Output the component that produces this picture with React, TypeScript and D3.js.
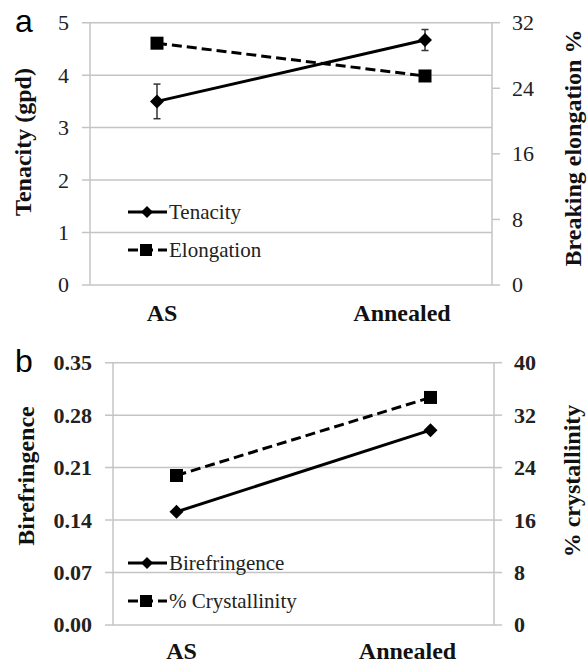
import * as d3 from "d3";

// categories on x
const categories = ["AS", "Annealed"];

// panel a
const tenacity = [3.5, 4.67];
const tenacityErr = [0.33, 0.2];
const elongation = [29.5, 25.5];
const tenacityTicks = [0, 1, 2, 3, 4, 5];
const elongationTicks = [0, 8, 16, 24, 32];

// panel b
const birefringence = [0.151, 0.26];
const crystallinity = [22.8, 34.7];
const birefTicks = [0, 0.07, 0.14, 0.21, 0.28, 0.35];
const crystTicks = [0, 8, 16, 24, 32, 40];

const serif = "Times New Roman, Liberation Serif, DejaVu Serif, serif";
const sans = "Liberation Sans, Arial, sans-serif";
const gridColor = "#c4c4c4";

type PanelProps = {
	letter: string;
	left: number;
	right: number;
	top: number;
	bottom: number;
	leftTicks: number[];
	rightTicks: number[];
	leftFmt: (v: number) => string;
	leftBold: boolean;
	leftTitle: string;
	rightTitle: string;
	leftTitleX: number;
	leftTitleY: number;
	rightTitleX: number;
	rightTitleY: number;
	solid: number[];
	solidErr?: number[];
	dashed: number[];
	solidName: string;
	dashedName: string;
	legendY: number;
	labelY: number;
};

function diamond(cx: number, cy: number, r: number) {
	return `M${cx},${cy - r}L${cx + r},${cy}L${cx},${cy + r}L${cx - r},${cy}Z`;
}

function Panel(p: PanelProps) {
	const x = d3
		.scalePoint<string>()
		.domain(categories)
		.range([p.left, p.right])
		.padding(0.25);
	const labelX = d3
		.scalePoint<string>()
		.domain(categories)
		.range([x("AS")! + 5, x("Annealed")! - 23]);

	const yL = d3
		.scaleLinear()
		.domain(d3.extent(p.leftTicks) as [number, number])
		.range([p.bottom, p.top]);
	const yR = d3
		.scaleLinear()
		.domain(d3.extent(p.rightTicks) as [number, number])
		.range([p.bottom, p.top]);

	const line = (scale: d3.ScaleLinear<number, number>) =>
		d3
			.line<number>()
			.x((_, i) => x(categories[i])!)
			.y((d) => scale(d));

	const dash = "10,5";
	const serifStyle = { fontFamily: serif };

	return (
		<g>
			<text x={15} y={p.top + 9} style={{ fontFamily: sans }} fontSize={32}>
				{p.letter}
			</text>

			{/* gridlines + left ticks */}
			{p.leftTicks.map((t) => (
				<g key={"l" + t}>
					<line
						x1={p.left - 8}
						x2={p.right}
						y1={yL(t)}
						y2={yL(t)}
						stroke={gridColor}
						strokeWidth={1.5}
					/>
					<text
						x={p.left - 21}
						y={yL(t)}
						dy="0.34em"
						textAnchor="end"
						style={serifStyle}
						fontSize={22}
						fontWeight={p.leftBold ? "bold" : "normal"}
						fill="#222"
					>
						{p.leftFmt(t)}
					</text>
				</g>
			))}
			{/* right ticks */}
			{p.rightTicks.map((t) => (
				<g key={"r" + t}>
					<line
						x1={p.right}
						x2={p.right + 8}
						y1={yR(t)}
						y2={yR(t)}
						stroke={gridColor}
						strokeWidth={1.5}
					/>
					<text
						x={p.right + 20}
						y={yR(t)}
						dy="0.34em"
						style={serifStyle}
						fontSize={22}
						fontWeight={p.leftBold ? "bold" : "normal"}
						fill="#222"
					>
						{t}
					</text>
				</g>
			))}
			<line x1={p.left} x2={p.left} y1={p.top} y2={p.bottom} stroke={gridColor} strokeWidth={1.5} />
			<line x1={p.right} x2={p.right} y1={p.top} y2={p.bottom} stroke={gridColor} strokeWidth={1.5} />

			{/* category labels */}
			{categories.map((c) => (
				<text
					key={c}
					x={labelX(c)}
					y={p.labelY}
					textAnchor="middle"
					style={serifStyle}
					fontSize={24}
					fontWeight="bold"
					fill="#111"
				>
					{c}
				</text>
			))}

			{/* axis titles */}
			<text
				transform={`translate(${p.leftTitleX},${p.leftTitleY}) rotate(-90)`}
				textAnchor="middle"
				dy="0.34em"
				style={serifStyle}
				fontSize={24}
				fontWeight="bold"
				fill="#111"
			>
				{p.leftTitle}
			</text>
			<text
				transform={`translate(${p.rightTitleX},${p.rightTitleY}) rotate(-90)`}
				textAnchor="middle"
				dy="0.34em"
				style={serifStyle}
				fontSize={24}
				fontWeight="bold"
				fill="#111"
			>
				{p.rightTitle}
			</text>

			{/* dashed series (right axis) */}
			<path d={line(yR)(p.dashed)!} fill="none" stroke="#000" strokeWidth={3} strokeDasharray={dash} />
			{p.dashed.map((v, i) => (
				<rect
					key={"sq" + i}
					x={x(categories[i])! - 6.5}
					y={yR(v) - 6.5}
					width={13}
					height={13}
					fill="#000"
				/>
			))}

			{/* solid series (left axis) */}
			<path d={line(yL)(p.solid)!} fill="none" stroke="#000" strokeWidth={3} />
			{p.solidErr &&
				p.solid.map((v, i) => {
					const cx = x(categories[i])!;
					const e = p.solidErr![i];
					return (
						<g key={"err" + i} stroke="#333" strokeWidth={1.5}>
							<line x1={cx} x2={cx} y1={yL(v - e)} y2={yL(v + e)} />
							<line x1={cx - 3.5} x2={cx + 3.5} y1={yL(v - e)} y2={yL(v - e)} />
							<line x1={cx - 3.5} x2={cx + 3.5} y1={yL(v + e)} y2={yL(v + e)} />
						</g>
					);
				})}
			{p.solid.map((v, i) => (
				<path key={"dm" + i} d={diamond(x(categories[i])!, yL(v), 7)} fill="#000" />
			))}

			{/* legend */}
			<g>
				<line x1={128} x2={167} y1={p.legendY} y2={p.legendY} stroke="#000" strokeWidth={3} />
				<path d={diamond(147, p.legendY, 6)} fill="#000" />
				<text x={169} y={p.legendY} dy="0.32em" style={serifStyle} fontSize={21} fill="#222">
					{p.solidName}
				</text>
				<line
					x1={128}
					x2={167}
					y1={p.legendY + 38}
					y2={p.legendY + 38}
					stroke="#000"
					strokeWidth={3}
					strokeDasharray={dash}
				/>
				<rect x={140} y={p.legendY + 38 - 6} width={12} height={12} fill="#000" />
				<text x={169} y={p.legendY + 38} dy="0.32em" style={serifStyle} fontSize={21} fill="#222">
					{p.dashedName}
				</text>
			</g>
		</g>
	);
}

export default function App() {
	return (
		<div style={{ position: "absolute", left: 0, top: 0 }}>
			<svg width={588} height={663} style={{ display: "block", background: "#fff" }}>
				<Panel
					letter="a"
					left={90}
					right={492}
					top={22.7}
					bottom={285}
					leftTicks={tenacityTicks}
					rightTicks={elongationTicks}
					leftFmt={(v) => String(v)}
					leftBold={false}
					leftTitle="Tenacity (gpd)"
					rightTitle="Breaking elongation %"
					leftTitleX={23}
					leftTitleY={142}
					rightTitleX={573}
					rightTitleY={148}
					solid={tenacity}
					solidErr={tenacityErr}
					dashed={elongation}
					solidName="Tenacity"
					dashedName="Elongation"
					legendY={212}
					labelY={321}
				/>
				<Panel
					letter="b"
					left={113}
					right={494}
					top={362.7}
					bottom={625}
					leftTicks={birefTicks}
					rightTicks={crystTicks}
					leftFmt={(v) => v.toFixed(2)}
					leftBold={true}
					leftTitle="Birefringence"
					rightTitle="% crystallinity"
					leftTitleX={26}
					leftTitleY={476}
					rightTitleX={572}
					rightTitleY={481}
					solid={birefringence}
					dashed={crystallinity}
					solidName="Birefringence"
					dashedName="% Crystallinity"
					legendY={563}
					labelY={659}
				/>
			</svg>
		</div>
	);
}
